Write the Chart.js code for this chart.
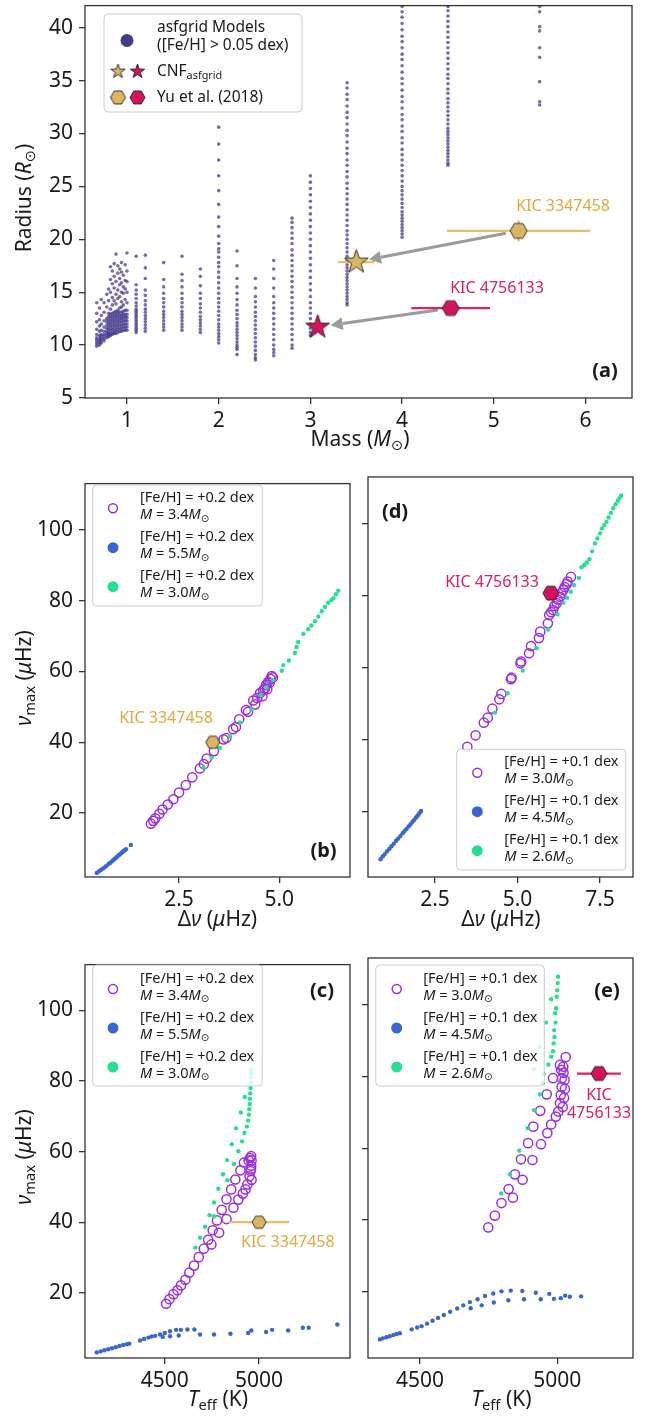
<!DOCTYPE html>
<html>
<head>
<meta charset="utf-8">
<script src="https://cdn.jsdelivr.net/npm/chart.js@4.4.1/dist/chart.umd.min.js"></script>
<style>
  body { margin: 0; background: #fff; width: 651px; height: 1416px; position: relative; overflow: hidden; }
  canvas { position: absolute; }
</style>
</head>
<body>
<canvas id="pa"></canvas>
<canvas id="pb"></canvas>
<canvas id="pd"></canvas>
<canvas id="pc"></canvas>
<canvas id="pe"></canvas>
<script>
// ---- (a) asfgrid models: mass columns and their radii ----
const gridMasses = [1.1, 1.2, 1.4, 1.6, 1.8, 2.0, 2.2, 2.4, 2.6, 2.8, 3.0, 3.4, 4.0, 4.5, 5.5];
const gridRadii = [
  [18.4, 15.7, 15.2, 14.8, 14.4, 14.0, 13.7, 13.4, 13.2, 13.0, 12.8, 12.6, 12.4, 12.2, 12.0, 11.8, 11.6, 11.4, 11.2],
  [18.5, 17.3, 16.3, 15.2, 14.7, 14.2, 13.8, 13.4, 13.1, 12.8, 12.5, 12.2, 11.9, 11.6, 11.3],
  [17.8, 16.2, 15.5, 14.9, 14.4, 14.0, 13.6, 13.2, 12.9, 12.6, 12.3, 12.0, 11.7, 11.4],
  [18.4, 16.7, 16.1, 15.5, 14.9, 14.4, 14.0, 13.6, 13.2, 12.9, 12.6, 12.3, 12.0, 11.7, 11.4],
  [17.2, 16.5, 15.6, 14.9, 14.4, 13.9, 13.5, 13.1, 12.7, 12.4, 12.1, 11.8, 11.5, 11.2],
  [36.0, 30.6, 29.0, 27.5, 26.0, 24.6, 23.3, 22.1, 21.2, 20.3, 19.6, 19.1, 18.8, 18.3, 17.8, 17.4, 16.9, 16.4, 15.9, 15.4, 14.9, 14.4, 14.0, 13.6, 13.2, 12.8, 12.4, 12.0, 11.7, 11.4, 11.1, 10.8, 10.5, 10.2],
  [18.9, 17.5, 16.3, 15.5, 14.9, 14.3, 13.8, 13.3, 12.9, 12.5, 12.1, 11.8, 11.5, 11.2, 10.9, 10.6, 10.3, 10.0, 9.8, 9.6, 9.1],
  [16.3, 15.4, 14.6, 14.1, 13.6, 13.1, 12.7, 12.3, 11.9, 11.5, 11.1, 10.7, 10.3, 9.9, 9.5, 9.1, 8.8, 8.6],
  [18.0, 17.2, 16.3, 15.4, 14.6, 14.0, 13.5, 13.0, 12.5, 12.0, 11.5, 11.0, 10.5, 10.0, 9.6, 9.3, 9.0],
  [22.0, 21.6, 21.1, 20.6, 20.1, 19.6, 19.0, 18.5, 18.0, 17.5, 17.0, 16.5, 16.0, 15.5, 15.0, 14.5, 14.0, 13.5, 13.0, 12.5, 12.0, 11.5, 11.0, 10.5, 10.0, 9.7],
  [26.0, 25.4, 24.8, 24.2, 23.6, 23.0, 22.4, 21.8, 21.2, 20.6, 20.0, 19.4, 18.8, 18.2, 17.6, 17.0, 16.4, 15.8, 15.2, 14.6, 14.0, 13.5, 13.0, 12.5, 12.0, 11.6, 11.2, 10.9],
  [34.8, 34.3, 33.7, 33.2, 32.6, 32.0, 31.5, 30.9, 30.3, 29.8, 29.2, 28.6, 28.1, 27.5, 27.0, 26.4, 25.9, 25.3, 24.8, 24.3, 23.8, 23.3, 22.8, 22.3, 21.8, 21.3, 20.8, 20.4, 20.0, 19.6, 19.2, 18.8, 18.4, 18.0, 17.6, 17.3, 17.0, 16.7, 16.4, 16.1, 15.8, 15.5, 15.2, 14.9, 14.6, 14.3, 14.0, 13.8],
  [42.0, 41.5, 41.0, 40.4, 39.8, 39.2, 38.7, 38.1, 37.5, 37.0, 36.4, 35.8, 35.2, 34.7, 34.1, 33.5, 33.0, 32.4, 31.8, 31.3, 30.7, 30.2, 29.6, 29.1, 28.5, 28.0, 27.5, 27.0, 26.5, 26.0, 25.5, 25.0, 24.6, 24.2, 23.8, 23.4, 23.0, 22.6, 22.3, 22.0, 21.7, 21.4, 21.1, 20.8, 20.5, 20.2],
  [42.0, 41.6, 41.1, 40.6, 40.1, 39.6, 39.1, 38.6, 38.1, 37.6, 37.1, 36.6, 36.1, 35.6, 35.2, 34.7, 34.2, 33.8, 33.3, 32.9, 32.5, 32.1, 31.7, 31.3, 30.9, 30.5, 30.2, 29.9, 29.6, 29.3, 29.0, 28.7, 28.4, 28.1, 27.8, 27.5, 27.2, 27.0],
  [42.0, 41.5, 40.1, 39.7, 38.1, 37.2, 34.9, 33.0, 32.7]
];
// low-mass cloud
const cloudMasses = [0.67, 0.70, 0.72, 0.75, 0.78, 0.80, 0.82, 0.84, 0.86, 0.88, 0.90, 0.92, 0.94, 0.96, 0.98, 1.00];
const cloudRadii = [
  [9.9, 10.1, 10.3, 10.5, 10.7, 11.0, 11.5, 12.2, 13.0, 14.0],
  [10.0, 10.2, 10.4, 10.6, 10.9, 11.3, 11.8, 12.4, 13.5],
  [10.2, 10.4, 10.6, 10.8, 11.0, 11.4, 12.0, 12.8, 14.3],
  [10.4, 10.6, 10.8, 11.0, 11.3, 11.7, 12.3, 13.1, 14.0],
  [10.7, 10.9, 11.1, 11.3, 11.6, 11.9, 12.2, 12.5, 13.6, 14.8],
  [10.8, 11.0, 11.2, 11.5, 11.8, 12.1, 12.4, 12.7, 13.0, 14.2, 15.3],
  [10.9, 11.1, 11.4, 11.7, 12.0, 12.3, 12.6, 12.9, 13.4, 15.0, 16.2, 17.4],
  [11.0, 11.2, 11.5, 11.8, 12.1, 12.4, 12.7, 13.0, 13.8, 14.5, 15.8, 17.0],
  [11.1, 11.3, 11.6, 11.9, 12.2, 12.5, 12.8, 13.1, 14.2, 15.4, 16.5, 17.7],
  [11.1, 11.4, 11.7, 12.0, 12.3, 12.6, 12.9, 13.2, 13.9, 14.8, 16.0, 18.6],
  [11.2, 11.5, 11.8, 12.1, 12.4, 12.7, 13.0, 13.3, 14.4, 15.2, 16.8, 17.5],
  [11.3, 11.6, 11.9, 12.2, 12.5, 12.8, 13.1, 13.5, 14.6, 15.7, 16.3, 17.2],
  [11.3, 11.6, 11.9, 12.2, 12.5, 12.8, 13.1, 13.6, 14.1, 15.0, 15.9, 16.9, 17.8],
  [11.4, 11.7, 12.0, 12.3, 12.6, 12.9, 13.2, 13.8, 14.9, 15.5, 16.6],
  [11.4, 11.7, 12.0, 12.3, 12.6, 12.9, 13.3, 14.3, 15.3, 16.1, 17.6],
  [11.4, 11.7, 12.0, 12.3, 12.6, 12.9, 13.3, 14.0, 15.0, 16.0, 17.0, 18.7]
];
// stars: [KIC 3347458, KIC 4756133]
const cnfMass = [3.50, 3.08];
const cnfMassErr = [0.20, 0];
const cnfRadius = [17.85, 11.7];
const yuMass = [5.27, 4.53];
const yuMassErr = [0.78, 0.43];
const yuRadius = [20.8, 13.5];
const yuRadiusErr = [1.0, 0];
const starNames = ['KIC 3347458', 'KIC 4756133'];

// ---- (b) [Fe/H]=+0.2 tracks, Δν vs νmax ----
const dnuB34 = [1.80, 1.86, 1.91, 2.01, 2.09, 2.22, 2.36, 2.50, 2.67, 2.83, 3.02, 3.12, 3.19, 3.37, 3.61, 3.68, 3.85, 3.92, 4.00, 4.17, 4.22, 4.35, 4.40, 4.45, 4.52, 4.58, 4.60, 4.64, 4.67, 4.70, 4.72, 4.76, 4.78, 4.81, 4.84];
const numaxB34 = [17.0, 17.8, 18.5, 19.8, 21.0, 22.4, 23.9, 25.8, 27.9, 30.1, 32.6, 33.8, 35.4, 37.5, 40.8, 41.2, 43.7, 44.3, 46.5, 49.1, 48.6, 51.8, 50.7, 52.5, 53.9, 53.0, 54.7, 55.2, 56.2, 55.0, 57.0, 56.8, 57.9, 58.7, 58.3];
const dnuB55 = [0.45, 0.50, 0.55, 0.60, 0.64, 0.68, 0.74, 0.78, 0.82, 0.86, 0.90, 0.93, 0.96, 0.99, 1.02, 1.05, 1.08, 1.10, 1.12, 1.15, 1.18, 1.30];
const numaxB55 = [3.1, 3.5, 3.9, 4.3, 4.6, 5.0, 5.6, 5.9, 6.3, 6.7, 7.1, 7.4, 7.7, 8.0, 8.3, 8.6, 8.9, 9.1, 9.3, 9.5, 9.8, 11.0];
const dnuB30 = [3.11, 3.31, 3.52, 3.77, 4.02, 4.31, 4.54, 4.68, 4.84, 5.06, 5.10, 5.24, 5.39, 5.43, 5.47, 5.60, 5.72, 5.80, 5.89, 5.97, 6.06, 6.14, 6.22, 6.30, 6.35, 6.41, 6.47];
const numaxB30 = [32.9, 35.6, 38.4, 41.7, 45.6, 49.3, 53.3, 55.5, 57.6, 60.2, 61.8, 63.1, 65.2, 66.9, 68.3, 70.6, 71.9, 73.0, 74.2, 75.5, 77.0, 78.2, 79.4, 80.2, 80.7, 81.8, 82.8];

// ---- (c) same tracks, Teff vs νmax ----
const teffC34 = [4507, 4525, 4546, 4567, 4586, 4609, 4630, 4655, 4680, 4707, 4747, 4730, 4754, 4788, 4777, 4827, 4802, 4864, 4827, 4890, 4852, 4914, 4874, 4928, 4901, 4938, 4920, 4949, 4955, 4958, 4960, 4958, 4952, 4945, 4960, 4957];
const numaxC34 = [16.9, 18.2, 19.6, 20.7, 22.1, 23.7, 25.7, 27.7, 30.1, 32.5, 33.7, 35.0, 37.7, 37.0, 40.5, 40.9, 43.5, 44.1, 46.5, 46.4, 49.3, 48.1, 52.1, 49.3, 54.7, 50.7, 56.9, 53.0, 54.5, 56.0, 57.5, 58.7, 58.2, 57.5, 52.0, 55.0];
const teffC55 = [4139, 4160, 4180, 4200, 4220, 4240, 4260, 4280, 4300, 4312, 4369, 4390, 4413, 4430, 4449, 4475, 4489, 4500, 4528, 4528, 4560, 4574, 4585, 4620, 4657, 4687, 4761, 4848, 4942, 4959, 5037, 5069, 5154, 5232, 5263, 5415];
const numaxC55 = [3.1, 3.4, 3.7, 4.0, 4.3, 4.6, 4.9, 5.2, 5.4, 5.6, 6.5, 6.9, 7.3, 7.6, 7.8, 8.2, 7.5, 8.6, 9.1, 7.7, 9.5, 7.9, 9.5, 9.6, 9.6, 8.2, 8.2, 8.4, 8.6, 9.3, 8.9, 9.5, 9.3, 10.1, 10.1, 11.0];
const teffC30 = [4662, 4687, 4714, 4737, 4761, 4784, 4809, 4830, 4855, 4878, 4903, 4924, 4761, 4832, 4867, 4890, 4910, 4922, 4935, 4942, 4946, 4948, 4950, 4952, 4953, 4955, 4956, 4957, 4958, 4958];
const numaxC30 = [32.8, 35.6, 38.7, 42.0, 45.6, 49.5, 53.6, 57.6, 62.1, 66.6, 71.1, 75.5, 41.7, 51.9, 56.5, 60.1, 62.9, 65.3, 67.1, 68.8, 70.5, 72.0, 73.5, 75.0, 76.5, 78.0, 79.5, 81.0, 82.2, 83.2];

// ---- (d) [Fe/H]=+0.1 tracks, Δν vs νmax ----
const dnuD30 = [3.48, 3.73, 3.98, 4.10, 4.24, 4.45, 4.51, 4.80, 4.82, 5.09, 5.11, 5.35, 5.41, 5.65, 5.69, 5.92, 5.96, 6.02, 6.08, 6.12, 6.19, 6.22, 6.29, 6.33, 6.39, 6.43, 6.49, 6.52, 6.62];
const numaxD30 = [38.1, 41.3, 44.8, 46.2, 48.7, 51.3, 52.8, 56.9, 57.3, 61.3, 61.8, 64.1, 66.1, 68.3, 70.1, 72.4, 74.7, 75.5, 76.1, 77.2, 78.0, 79.0, 79.8, 80.8, 81.7, 82.5, 83.3, 84.0, 85.3];
const dnuD45 = [0.85, 0.92, 0.98, 1.05, 1.12, 1.18, 1.25, 1.32, 1.38, 1.45, 1.52, 1.58, 1.64, 1.70, 1.76, 1.82, 1.87, 1.92, 1.96, 2.00, 2.04, 2.08];
const numaxD45 = [6.9, 7.7, 8.3, 9.1, 9.8, 10.5, 11.2, 12.0, 12.6, 13.3, 14.1, 14.7, 15.3, 16.0, 16.6, 17.3, 17.8, 18.4, 18.8, 19.3, 19.8, 20.3];
const dnuD26 = [4.32, 4.70, 5.16, 5.58, 5.93, 6.21, 6.39, 6.50, 6.61, 6.71, 6.86, 6.94, 7.02, 7.10, 7.18, 7.26, 7.35, 7.42, 7.50, 7.56, 7.63, 7.70, 7.76, 7.83, 7.90, 7.97, 8.04, 8.09, 8.14];
const numaxD26 = [47.6, 53.0, 59.3, 65.5, 70.7, 74.9, 78.1, 79.5, 81.2, 83.0, 85.0, 88.0, 88.6, 89.3, 90.2, 92.4, 94.6, 96.0, 97.4, 98.8, 99.7, 100.6, 101.8, 103.1, 104.4, 105.5, 106.5, 107.2, 107.9];

// ---- (e) same tracks, Teff vs νmax ----
const teffE30 = [4749, 4773, 4797, 4823, 4839, 4846, 4874, 4868, 4910, 4894, 4941, 4913, 4964, 4938, 4978, 4962, 4995, 4985, 5004, 5010, 5013, 5016, 5017, 5015, 5010, 5022, 5031, 5020, 5025, 5028, 5027, 5023];
const numaxE30 = [37.9, 41.2, 44.7, 48.6, 46.2, 52.7, 51.2, 56.9, 56.7, 61.4, 61.1, 66.0, 64.2, 70.4, 66.6, 75.0, 68.8, 79.5, 70.2, 72.5, 74.8, 77.1, 79.5, 81.8, 83.2, 82.7, 85.4, 71.5, 74.0, 76.5, 79.0, 81.0];
const teffE45 = [4354, 4365, 4378, 4390, 4403, 4415, 4427, 4470, 4490, 4506, 4526, 4546, 4566, 4587, 4610, 4636, 4658, 4682, 4710, 4737, 4767, 4797, 4831, 4873, 4922, 4971, 5029, 5087, 4685, 4725, 4769, 4822, 4879, 4940, 4988, 5013, 5046];
const numaxE45 = [6.7, 7.0, 7.3, 7.6, 7.9, 8.2, 8.4, 9.5, 10.0, 10.4, 11.1, 11.9, 12.7, 13.5, 14.4, 15.3, 16.2, 17.1, 17.9, 18.8, 19.5, 20.1, 20.3, 20.2, 19.7, 19.4, 18.9, 18.7, 15.4, 16.2, 17.0, 17.6, 17.9, 17.9, 18.0, 18.2, 18.6];
const teffE26 = [4796, 4828, 4862, 4892, 4916, 4937, 4951, 4968, 4978, 4987, 4989, 4993, 4998, 5003, 4978, 4959, 4936, 4915, 4947, 4985, 4990, 4994, 4996, 5000, 5002];
const numaxE26 = [47.4, 52.7, 59.3, 65.6, 70.6, 75.0, 80.7, 83.3, 85.5, 89.2, 92.9, 97.6, 102.2, 107.8, 101.5, 95.0, 88.3, 82.0, 78.1, 87.0, 91.0, 95.0, 99.0, 104.0, 106.0];

// observed stars in (b)-(e)
const obsDnu = [3.34, 6.01];
const obsNumax = [40.0, 80.8];
const obsTeff = [5000, 5152];
const obsTeffErr = [160, 80];

// tick values
const ticksMass = [1, 2, 3, 4, 5, 6];
const ticksRadius = [5, 10, 15, 20, 25, 30, 35, 40];
const ticksNumax = [20, 40, 60, 80, 100];
const ticksDnuB = [2.5, 5.0];
const ticksDnuD = [2.5, 5.0, 7.5];
const ticksTeff = [4500, 5000];

const FONT = '"Noto Sans", "DejaVu Sans", sans-serif';
const GOLD = '#dbb562', GOLD_TXT = '#e3a93d', GOLD_BAR = '#e8bf66';
const RED = '#d4145a', RED_TXT = '#dc1d60', RED_BAR = '#d82460';
const VIOLET = '#9b2fe0', BLUE = '#3a67cf', GREEN = '#27df93', GRIDC = 'rgba(58,48,135,0.7)';

const pts = (xs, ys) => xs.map((x, i) => ({x, y: ys[i]}));

function starImg(r, fill) {
  const s = Math.ceil(2 * r + 4), c = document.createElement('canvas');
  c.width = c.height = s;
  const g = c.getContext('2d');
  g.translate(s / 2, s / 2);
  g.beginPath();
  for (let i = 0; i < 10; i++) {
    const rr = i % 2 ? r * 0.4 : r, a = -Math.PI / 2 + i * Math.PI / 5;
    g.lineTo(rr * Math.cos(a), rr * Math.sin(a));
  }
  g.closePath();
  g.fillStyle = fill; g.fill();
  g.strokeStyle = '#222'; g.lineWidth = 0.9; g.stroke();
  return c;
}

function hexImg(r, fill) {
  const s = Math.ceil(2 * r + 4), c = document.createElement('canvas');
  c.width = c.height = s;
  const g = c.getContext('2d');
  g.translate(s / 2, s / 2);
  g.beginPath();
  for (let i = 0; i < 6; i++) {
    const a = i * Math.PI / 3;
    g.lineTo(r * Math.cos(a), r * Math.sin(a));
  }
  g.closePath();
  g.fillStyle = fill; g.fill();
  g.strokeStyle = '#222'; g.lineWidth = 0.9; g.stroke();
  return c;
}

// mixed style text: parts = [[text, style]], style '', 'i', 's' (subscript), 'b'
function rich(ctx, x, y, parts, align, size, color) {
  ctx.save();
  ctx.fillStyle = color || '#1a1a1a';
  ctx.textBaseline = 'middle';
  const fontOf = st => {
    const sz = st === 's' ? size * 0.7 : size;
    return (st === 'i' ? 'italic ' : st === 'b' ? 'bold ' : '') + sz + 'px ' + FONT;
  };
  let w = 0;
  parts.forEach(p => { ctx.font = fontOf(p[1]); w += ctx.measureText(p[0]).width; });
  let cx = align === 'center' ? x - w / 2 : align === 'right' ? x - w : x;
  parts.forEach(p => {
    ctx.font = fontOf(p[1]);
    ctx.fillText(p[0], cx, p[1] === 's' ? y + size * 0.28 : y);
    cx += ctx.measureText(p[0]).width;
  });
  ctx.restore();
}

function legendBox(ctx, x0, y0, x1, y1) {
  const r = 4;
  ctx.save();
  ctx.beginPath();
  ctx.moveTo(x0 + r, y0); ctx.lineTo(x1 - r, y0); ctx.quadraticCurveTo(x1, y0, x1, y0 + r);
  ctx.lineTo(x1, y1 - r); ctx.quadraticCurveTo(x1, y1, x1 - r, y1);
  ctx.lineTo(x0 + r, y1); ctx.quadraticCurveTo(x0, y1, x0, y1 - r);
  ctx.lineTo(x0, y0 + r); ctx.quadraticCurveTo(x0, y0, x0 + r, y0);
  ctx.closePath();
  ctx.fillStyle = 'rgba(255,255,255,0.8)'; ctx.fill();
  ctx.strokeStyle = 'rgba(200,200,200,0.9)'; ctx.lineWidth = 1; ctx.stroke();
  ctx.restore();
}

function dot(ctx, x, y, r, color, open) {
  ctx.save();
  ctx.beginPath(); ctx.arc(x, y, r, 0, Math.PI * 2);
  if (open) { ctx.strokeStyle = color; ctx.lineWidth = 1.5; ctx.stroke(); }
  else { ctx.fillStyle = color; ctx.fill(); }
  ctx.restore();
}

function trackLegend(ctx, box, mx, tx, rows, feh, masses) {
  legendBox(ctx, box[0], box[1], box[2], box[3]);
  const cols = [VIOLET, BLUE, GREEN];
  rows.forEach((my, i) => {
    if (i === 0) dot(ctx, mx, my, 4.5, cols[i], true);
    else dot(ctx, mx, my, 5.5, cols[i], false);
    rich(ctx, tx, my - 10.5, [['[Fe/H] = +' + feh + ' dex', '']], 'left', 14.5);
    rich(ctx, tx, my + 6.5, [['M', 'i'], [' = ' + masses[i], ''], ['M', 'i'], ['\u2299', 's']], 'left', 14.5);
  });
}

function axis(min, max, tickVals, fmt, showLabels, size, pad, fit) {
  return {
    type: 'linear', min, max,
    grid: {drawOnChartArea: false, drawTicks: true, tickLength: 6, color: '#333', lineWidth: 1.3},
    border: {display: false},
    ticks: {display: showLabels, autoSkip: false, maxRotation: 0, padding: pad, color: '#1a1a1a',
      font: {family: FONT, size: 21}, callback: fmt},
    afterBuildTicks: s => { s.ticks = tickVals.map(v => ({value: v})); },
    afterFit: fit
  };
}

function panel(id, area, xr, yr, xTicks, yTicks, xFmt, yLabels, yW, datasets, deco, extraPlugins) {
  const padT = 12, padR = 14, xH = 60;
  const c = document.getElementById(id);
  const w = yW + (area.r - area.l) + padR, h = padT + (area.b - area.t) + xH;
  const offX = area.l - yW, offY = area.t - padT;
  c.width = w; c.height = h;
  c.style.width = w + 'px'; c.style.height = h + 'px';
  c.style.left = offX + 'px'; c.style.top = offY + 'px';
  const decoPlugin = {
    id: 'deco',
    afterDraw(chart) {
      const ctx = chart.ctx, a = chart.chartArea;
      ctx.save();
      ctx.strokeStyle = '#333'; ctx.lineWidth = 1.3;
      ctx.strokeRect(a.left, a.top, a.right - a.left, a.bottom - a.top);
      ctx.translate(-offX, -offY);
      deco(ctx, chart);
      ctx.restore();
    }
  };
  return new Chart(c, {
    type: 'scatter',
    data: {datasets},
    options: {
      responsive: false, animation: false, devicePixelRatio: 1,
      layout: {padding: {top: padT, right: padR, left: 0, bottom: 0}},
      plugins: {legend: {display: false}, tooltip: {enabled: false}},
      scales: {
        x: axis(xr[0], xr[1], xTicks, xFmt, true, 21, 4, s => { s.height = xH; }),
        y: axis(yr[0], yr[1], yTicks, v => String(v), yLabels, 21, 6, s => { s.width = yW; })
      }
    },
    plugins: [decoPlugin].concat(extraPlugins || [])
  });
}

const scatter = (data, color, r, open, order) => ({
  data, order, pointRadius: r, pointHoverRadius: r,
  pointBackgroundColor: open ? 'rgba(0,0,0,0)' : color,
  pointBorderColor: color, pointBorderWidth: open ? 1.5 : 0
});
const bar = (data, color, order) => ({
  data, order, showLine: true, pointRadius: 0, borderColor: color, borderWidth: 2.2, fill: false
});
const marker = (data, img, order) => ({data, order, pointStyle: img, pointRadius: 8});

// ---------------- panel (a) ----------------
const gridPts = [];
gridMasses.forEach((m, i) => gridRadii[i].forEach(r => gridPts.push({x: m, y: r})));
cloudMasses.forEach((m, i) => cloudRadii[i].forEach(r => gridPts.push({x: m, y: r})));

const starA = [starImg(12.5, GOLD), starImg(12.5, RED)];
const hexA = [hexImg(8.5, GOLD), hexImg(8.5, RED)];
const barCols = [GOLD_BAR, RED_BAR];

const dsA = [scatter(gridPts, GRIDC, 1.8, false, 10)];
for (let i = 0; i < 2; i++) {
  if (cnfMassErr[i] > 0) dsA.push(bar([{x: cnfMass[i] - cnfMassErr[i], y: cnfRadius[i]}, {x: cnfMass[i] + cnfMassErr[i], y: cnfRadius[i]}], barCols[i], 4));
  dsA.push(bar([{x: yuMass[i] - yuMassErr[i], y: yuRadius[i]}, {x: yuMass[i] + yuMassErr[i], y: yuRadius[i]}], barCols[i], 4));
  if (yuRadiusErr[i] > 0) dsA.push(bar([{x: yuMass[i], y: yuRadius[i] - yuRadiusErr[i]}, {x: yuMass[i], y: yuRadius[i] + yuRadiusErr[i]}], barCols[i], 4));
  dsA.push(marker([{x: cnfMass[i], y: cnfRadius[i]}], starA[i], 1));
  dsA.push(marker([{x: yuMass[i], y: yuRadius[i]}], hexA[i], 1));
}

const arrowPlugin = {
  id: 'arrows',
  afterDatasetDraw(chart, args) {
    if (args.index !== 0) return;
    const xs = chart.scales.x, ys = chart.scales.y, ctx = chart.ctx;
    for (let i = 0; i < yuMass.length; i++) {
      const x0 = xs.getPixelForValue(yuMass[i]), y0 = ys.getPixelForValue(yuRadius[i]);
      const x1 = xs.getPixelForValue(cnfMass[i]), y1 = ys.getPixelForValue(cnfRadius[i]);
      const L = Math.hypot(x1 - x0, y1 - y0), ux = (x1 - x0) / L, uy = (y1 - y0) / L;
      const sx = x0 + ux * 13, sy = y0 + uy * 13, ex = x1 - ux * 13, ey = y1 - uy * 13;
      const hl = 12, hw = 6.5, bx = ex - ux * hl, by = ey - uy * hl;
      ctx.save();
      ctx.strokeStyle = ctx.fillStyle = '#9b9b9b';
      ctx.lineWidth = 3;
      ctx.beginPath(); ctx.moveTo(sx, sy); ctx.lineTo(bx, by); ctx.stroke();
      ctx.beginPath(); ctx.moveTo(ex, ey);
      ctx.lineTo(bx - uy * hw, by + ux * hw); ctx.lineTo(bx + uy * hw, by - ux * hw);
      ctx.closePath(); ctx.fill();
      ctx.restore();
    }
  }
};

const starL = [starImg(7.5, GOLD), starImg(7.5, RED)];
const hexL = [hexImg(7.5, GOLD), hexImg(7.5, RED)];
const putImg = (ctx, img, x, y) => ctx.drawImage(img, x - img.width / 2, y - img.height / 2);

panel('pa', {l: 85, t: -1, r: 632, b: 398}, [0.542, 6.507], [5.0, 42.09], ticksMass, ticksRadius,
  v => String(v), true, 85, dsA, (ctx) => {
    legendBox(ctx, 104, 14, 302, 112);
    dot(ctx, 127, 40.5, 6.5, '#433b8c', false);
    rich(ctx, 157, 27.5, [['asfgrid Models', '']], 'left', 15.5);
    rich(ctx, 157, 45.5, [['([Fe/H] > 0.05 dex)', '']], 'left', 15.5);
    putImg(ctx, starL[0], 118, 71.5); putImg(ctx, starL[1], 137.5, 71.5);
    rich(ctx, 157, 71.5, [['CNF', ''], ['asfgrid', 's']], 'left', 15.5);
    putImg(ctx, hexL[0], 118, 97.5); putImg(ctx, hexL[1], 137.5, 97.5);
    rich(ctx, 157, 97.5, [['Yu et al. (2018)', '']], 'left', 15.5);
    rich(ctx, 563, 206, [[starNames[0], '']], 'center', 16, GOLD_TXT);
    rich(ctx, 497, 288.5, [[starNames[1], '']], 'center', 16, RED_TXT);
    rich(ctx, 605, 371, [['(a)', 'b']], 'center', 20);
    rich(ctx, 360, 440, [['Mass (', ''], ['M', 'i'], ['\u2299', 's'], [')', '']], 'center', 21);
    ctx.save(); ctx.translate(25, 198); ctx.rotate(-Math.PI / 2);
    rich(ctx, 0, 0, [['Radius (', ''], ['R', 'i'], ['\u2299', 's'], [')', '']], 'center', 21);
    ctx.restore();
  }, [arrowPlugin]);

// ---------------- panels (b)-(e) ----------------
const hexS = [hexImg(7, GOLD), hexImg(8, RED)];
const numaxTitle = (ctx, y) => {
  ctx.save(); ctx.translate(25, y); ctx.rotate(-Math.PI / 2);
  rich(ctx, 0, 0, [['\u03bd', 'i'], ['max', 's'], [' (', ''], ['\u03bc', 'i'], ['Hz)', '']], 'center', 21);
  ctx.restore();
};
const dnuTitle = [['\u0394', ''], ['\u03bd', 'i'], [' (', ''], ['\u03bc', 'i'], ['Hz)', '']];
const teffTitle = [['T', 'i'], ['eff', 's'], [' (K)', '']];
const fmt1 = v => v.toFixed(1);

panel('pb', {l: 85, t: 477, r: 350, b: 877}, [0.157, 6.762], [1.94, 113.06], ticksDnuB, ticksNumax, fmt1, true, 85, [
  marker([{x: obsDnu[0], y: obsNumax[0]}], hexS[0], 0),
  scatter(pts(dnuB30, numaxB30), GREEN, 2.2, false, 2),
  scatter(pts(dnuB55, numaxB55), BLUE, 2.2, false, 3),
  scatter(pts(dnuB34, numaxB34), VIOLET, 4.6, true, 4)
], (ctx) => {
  trackLegend(ctx, [92.7, 485, 262.3, 606], 113, 140, [508.3, 547.7, 586.7], '0.2', ['3.4', '5.5', '3.0']);
  rich(ctx, 166, 718.5, [[starNames[0], '']], 'center', 16, GOLD_TXT);
  rich(ctx, 323.5, 851, [['(b)', 'b']], 'center', 20);
  rich(ctx, 217.5, 920, dnuTitle, 'center', 21);
  numaxTitle(ctx, 678);
});

panel('pd', {l: 368, t: 477, r: 633, b: 877}, [0.47, 8.5], [1.94, 113.06], ticksDnuD, ticksNumax, fmt1, false, 10, [
  marker([{x: obsDnu[1], y: obsNumax[1]}], hexS[1], 0),
  scatter(pts(dnuD26, numaxD26), GREEN, 2.2, false, 2),
  scatter(pts(dnuD45, numaxD45), BLUE, 2.2, false, 3),
  scatter(pts(dnuD30, numaxD30), VIOLET, 4.6, true, 4)
], (ctx) => {
  trackLegend(ctx, [456.7, 749.3, 625.7, 870], 477.3, 504.3, [772.7, 811.7, 850.7], '0.1', ['3.0', '4.5', '2.6']);
  rich(ctx, 492, 582, [[starNames[1], '']], 'center', 16, RED_TXT);
  rich(ctx, 395, 512, [['(d)', 'b']], 'center', 20);
  rich(ctx, 501, 920, dnuTitle, 'center', 21);
});

panel('pc', {l: 85, t: 958, r: 350, b: 1358}, [4077, 5482], [1.52, 113.0], ticksTeff, ticksNumax, v => String(v), true, 85, [
  marker([{x: obsTeff[0], y: obsNumax[0]}], hexS[0], 0),
  bar([{x: obsTeff[0] - obsTeffErr[0], y: obsNumax[0]}, {x: obsTeff[0] + obsTeffErr[0], y: obsNumax[0]}], GOLD_BAR, 1),
  scatter(pts(teffC30, numaxC30), GREEN, 2.2, false, 2),
  scatter(pts(teffC55, numaxC55), BLUE, 2.2, false, 3),
  scatter(pts(teffC34, numaxC34), VIOLET, 4.6, true, 4)
], (ctx) => {
  trackLegend(ctx, [92.7, 965, 262.3, 1086], 113, 140, [989, 1028, 1067], '0.2', ['3.4', '5.5', '3.0']);
  rich(ctx, 241, 1242, [[starNames[0], '']], 'left', 16, GOLD_TXT);
  rich(ctx, 322, 991, [['(c)', 'b']], 'center', 20);
  rich(ctx, 218, 1400, teffTitle, 'center', 21);
  numaxTitle(ctx, 1157);
});

panel('pe', {l: 368, t: 958, r: 633, b: 1358}, [4311, 5276], [1.52, 113.0], ticksTeff, ticksNumax, v => String(v), false, 10, [
  marker([{x: obsTeff[1], y: obsNumax[1]}], hexS[1], 0),
  bar([{x: obsTeff[1] - obsTeffErr[1], y: obsNumax[1]}, {x: obsTeff[1] + obsTeffErr[1], y: obsNumax[1]}], RED_BAR, 1),
  scatter(pts(teffE26, numaxE26), GREEN, 2.2, false, 2),
  scatter(pts(teffE45, numaxE45), BLUE, 2.2, false, 3),
  scatter(pts(teffE30, numaxE30), VIOLET, 4.6, true, 4)
], (ctx) => {
  trackLegend(ctx, [375.7, 965, 544.3, 1086], 396.7, 423.3, [989, 1028, 1067], '0.1', ['3.0', '4.5', '2.6']);
  rich(ctx, 599, 1095, [['KIC', '']], 'center', 16, RED_TXT);
  rich(ctx, 599, 1113.5, [['4756133', '']], 'center', 16, RED_TXT);
  rich(ctx, 607, 991, [['(e)', 'b']], 'center', 20);
  rich(ctx, 501.5, 1400, teffTitle, 'center', 21);
});
</script>
</body>
</html>
